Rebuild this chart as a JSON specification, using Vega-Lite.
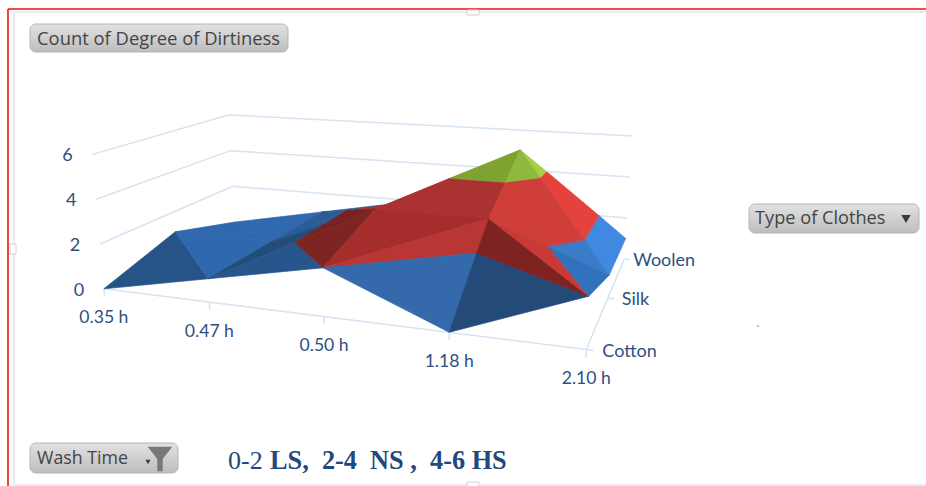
{
"$schema":"https://vega.github.io/schema/vega-lite/v6.json",
"description":"3-D surface of dirtiness count by wash time and type of clothes, drawn as projected facets split into 0-2, 2-4 and 4-6 bands",
"width":926,"height":486,"padding":0,
"autosize":{"type":"fit","contains":"padding"},
"background":"white",
"config":{"view":{"stroke":null}},
"data":{"values":[
{"group":"wall","id":"g2","corner":1,"washStep":0,"clothStep":0,"count":2},{"group":"wall","id":"g2","corner":2,"washStep":0,"clothStep":2,"count":2},{"group":"wall","id":"g2","corner":3,"washStep":4,"clothStep":2,"count":2},
{"group":"wall","id":"g4","corner":1,"washStep":0,"clothStep":0,"count":4},{"group":"wall","id":"g4","corner":2,"washStep":0,"clothStep":2,"count":4},{"group":"wall","id":"g4","corner":3,"washStep":4,"clothStep":2,"count":4},
{"group":"wall","id":"g6","corner":1,"washStep":0,"clothStep":0,"count":6},{"group":"wall","id":"g6","corner":2,"washStep":0,"clothStep":2,"count":6},{"group":"wall","id":"g6","corner":3,"washStep":4,"clothStep":2,"count":6},
{"group":"wall","id":"front","corner":1,"washStep":0,"clothStep":0,"count":0},{"group":"wall","id":"front","corner":2,"washStep":4,"clothStep":0,"count":0},{"group":"wall","id":"front","corner":3,"washStep":4,"clothStep":2,"count":0},
{"group":"wall","id":"t0","corner":1,"washStep":0,"clothStep":0,"count":0},{"group":"wall","id":"t0","corner":2,"washStep":0,"clothStep":0,"count":-0.3},
{"group":"wall","id":"t1","corner":1,"washStep":1,"clothStep":0,"count":0},{"group":"wall","id":"t1","corner":2,"washStep":1,"clothStep":0,"count":-0.3},
{"group":"wall","id":"t2","corner":1,"washStep":2,"clothStep":0,"count":0},{"group":"wall","id":"t2","corner":2,"washStep":2,"clothStep":0,"count":-0.3},
{"group":"wall","id":"t3","corner":1,"washStep":3,"clothStep":0,"count":0},{"group":"wall","id":"t3","corner":2,"washStep":3,"clothStep":0,"count":-0.3},
{"group":"wall","id":"t4","corner":1,"washStep":4,"clothStep":0,"count":0},{"group":"wall","id":"t4","corner":2,"washStep":4,"clothStep":0,"count":-0.3},
{"group":"wall","id":"c0","corner":1,"washStep":4,"clothStep":0,"count":0},{"group":"wall","id":"c0","corner":2,"washStep":4.05,"clothStep":0,"count":0},
{"group":"wall","id":"c1","corner":1,"washStep":4,"clothStep":1,"count":0},{"group":"wall","id":"c1","corner":2,"washStep":4.05,"clothStep":1,"count":0},
{"group":"wall","id":"c2","corner":1,"washStep":4,"clothStep":2,"count":0},{"group":"wall","id":"c2","corner":2,"washStep":4.05,"clothStep":2,"count":0},

{"group":"washLabel","label":"0.35 h","washStep":0,"clothStep":0,"count":0},
{"group":"washLabel","label":"0.47 h","washStep":1,"clothStep":0,"count":0},
{"group":"washLabel","label":"0.50 h","washStep":2,"clothStep":0,"count":0},
{"group":"washLabel","label":"1.18 h","washStep":3,"clothStep":0,"count":0},
{"group":"washLabel","label":"2.10 h","washStep":4,"clothStep":0,"count":0},
{"group":"clothLabel","label":"Cotton","washStep":4,"clothStep":0,"count":0},
{"group":"clothLabel","label":"Silk","washStep":4,"clothStep":1,"count":0},
{"group":"clothLabel","label":"Woolen","washStep":4,"clothStep":2,"count":0},
{"group":"countLabel","label":"0","washStep":0,"clothStep":0,"count":0},
{"group":"countLabel","label":"2","washStep":0,"clothStep":0,"count":2},
{"group":"countLabel","label":"4","washStep":0,"clothStep":0,"count":4},
{"group":"countLabel","label":"6","washStep":0,"clothStep":0,"count":6},

{"group":"surface","facet":"a3","corner":1,"washStep":0,"clothStep":1,"count":1},{"group":"surface","facet":"a3","corner":2,"washStep":1,"clothStep":1,"count":1},{"group":"surface","facet":"a3","corner":3,"washStep":0,"clothStep":2,"count":0},{"group":"surface","facet":"a3","corner":9,"washStep":0,"clothStep":1,"count":1},
{"group":"surface","facet":"a4","corner":1,"washStep":1,"clothStep":1,"count":1},{"group":"surface","facet":"a4","corner":2,"washStep":0,"clothStep":2,"count":0},{"group":"surface","facet":"a4","corner":3,"washStep":1,"clothStep":2,"count":1},{"group":"surface","facet":"a4","corner":9,"washStep":1,"clothStep":1,"count":1},
{"group":"surface","facet":"b5","corner":1,"washStep":1,"clothStep":2,"count":1},{"group":"surface","facet":"b5","corner":2,"washStep":2,"clothStep":2,"count":2},{"group":"surface","facet":"b5","corner":3,"washStep":1.5,"clothStep":1.5,"count":2},{"group":"surface","facet":"b5","corner":9,"washStep":1,"clothStep":2,"count":1},
{"group":"surface","facet":"b6","corner":1,"washStep":1.5,"clothStep":1.5,"count":2},{"group":"surface","facet":"b6","corner":2,"washStep":2,"clothStep":2,"count":2},{"group":"surface","facet":"b6","corner":3,"washStep":2,"clothStep":1,"count":3},{"group":"surface","facet":"b6","corner":9,"washStep":1.5,"clothStep":1.5,"count":2},
{"group":"surface","facet":"b3","corner":1,"washStep":1,"clothStep":1,"count":1},{"group":"surface","facet":"b3","corner":2,"washStep":1,"clothStep":2,"count":1},{"group":"surface","facet":"b3","corner":3,"washStep":1.5,"clothStep":1.5,"count":2},{"group":"surface","facet":"b3","corner":4,"washStep":1.5,"clothStep":1,"count":2},{"group":"surface","facet":"b3","corner":9,"washStep":1,"clothStep":1,"count":1},
{"group":"surface","facet":"b4","corner":1,"washStep":1.5,"clothStep":1,"count":2},{"group":"surface","facet":"b4","corner":2,"washStep":1.5,"clothStep":1.5,"count":2},{"group":"surface","facet":"b4","corner":3,"washStep":2,"clothStep":1,"count":3},{"group":"surface","facet":"b4","corner":9,"washStep":1.5,"clothStep":1,"count":2},
{"group":"surface","facet":"d1","corner":1,"washStep":2,"clothStep":1,"count":3},{"group":"surface","facet":"d1","corner":2,"washStep":2,"clothStep":2,"count":2},{"group":"surface","facet":"d1","corner":3,"washStep":2.667,"clothStep":2,"count":4},{"group":"surface","facet":"d1","corner":4,"washStep":2.5,"clothStep":1.5,"count":4},{"group":"surface","facet":"d1","corner":9,"washStep":2,"clothStep":1,"count":3},
{"group":"surface","facet":"d2","corner":1,"washStep":2.5,"clothStep":1.5,"count":4},{"group":"surface","facet":"d2","corner":2,"washStep":2.667,"clothStep":2,"count":4},{"group":"surface","facet":"d2","corner":3,"washStep":3,"clothStep":2,"count":5},{"group":"surface","facet":"d2","corner":9,"washStep":2.5,"clothStep":1.5,"count":4},
{"group":"surface","facet":"d3","corner":1,"washStep":2,"clothStep":1,"count":3},{"group":"surface","facet":"d3","corner":2,"washStep":3,"clothStep":1,"count":3},{"group":"surface","facet":"d3","corner":3,"washStep":3,"clothStep":1.5,"count":4},{"group":"surface","facet":"d3","corner":4,"washStep":2.5,"clothStep":1.5,"count":4},{"group":"surface","facet":"d3","corner":9,"washStep":2,"clothStep":1,"count":3},
{"group":"surface","facet":"d4","corner":1,"washStep":2.5,"clothStep":1.5,"count":4},{"group":"surface","facet":"d4","corner":2,"washStep":3,"clothStep":1.5,"count":4},{"group":"surface","facet":"d4","corner":3,"washStep":3,"clothStep":2,"count":5},{"group":"surface","facet":"d4","corner":9,"washStep":2.5,"clothStep":1.5,"count":4},
{"group":"surface","facet":"e4","corner":1,"washStep":4,"clothStep":1,"count":1},{"group":"surface","facet":"e4","corner":2,"washStep":3.75,"clothStep":1.25,"count":2},{"group":"surface","facet":"e4","corner":3,"washStep":3.75,"clothStep":2,"count":2},{"group":"surface","facet":"e4","corner":4,"washStep":4,"clothStep":2,"count":1},{"group":"surface","facet":"e4","corner":9,"washStep":4,"clothStep":1,"count":1},
{"group":"surface","facet":"e5","corner":1,"washStep":3.75,"clothStep":1.25,"count":2},{"group":"surface","facet":"e5","corner":2,"washStep":3.25,"clothStep":1.75,"count":4},{"group":"surface","facet":"e5","corner":3,"washStep":3.25,"clothStep":2,"count":4},{"group":"surface","facet":"e5","corner":4,"washStep":3.75,"clothStep":2,"count":2},{"group":"surface","facet":"e5","corner":9,"washStep":3.75,"clothStep":1.25,"count":2},
{"group":"surface","facet":"e6","corner":1,"washStep":3.25,"clothStep":1.75,"count":4},{"group":"surface","facet":"e6","corner":2,"washStep":3,"clothStep":2,"count":5},{"group":"surface","facet":"e6","corner":3,"washStep":3.25,"clothStep":2,"count":4},{"group":"surface","facet":"e6","corner":9,"washStep":3.25,"clothStep":1.75,"count":4},
{"group":"surface","facet":"e1","corner":1,"washStep":3.5,"clothStep":1,"count":2},{"group":"surface","facet":"e1","corner":2,"washStep":4,"clothStep":1,"count":1},{"group":"surface","facet":"e1","corner":3,"washStep":3.75,"clothStep":1.25,"count":2},{"group":"surface","facet":"e1","corner":9,"washStep":3.5,"clothStep":1,"count":2},
{"group":"surface","facet":"e2","corner":1,"washStep":3,"clothStep":1,"count":3},{"group":"surface","facet":"e2","corner":2,"washStep":3.5,"clothStep":1,"count":2},{"group":"surface","facet":"e2","corner":3,"washStep":3.75,"clothStep":1.25,"count":2},{"group":"surface","facet":"e2","corner":4,"washStep":3.25,"clothStep":1.75,"count":4},{"group":"surface","facet":"e2","corner":5,"washStep":3,"clothStep":1.5,"count":4},{"group":"surface","facet":"e2","corner":9,"washStep":3,"clothStep":1,"count":3},
{"group":"surface","facet":"e3","corner":1,"washStep":3,"clothStep":1.5,"count":4},{"group":"surface","facet":"e3","corner":2,"washStep":3.25,"clothStep":1.75,"count":4},{"group":"surface","facet":"e3","corner":3,"washStep":3,"clothStep":2,"count":5},{"group":"surface","facet":"e3","corner":9,"washStep":3,"clothStep":1.5,"count":4},

{"group":"surface","facet":"a1","corner":1,"washStep":0,"clothStep":0,"count":0},{"group":"surface","facet":"a1","corner":2,"washStep":1,"clothStep":0,"count":1},{"group":"surface","facet":"a1","corner":3,"washStep":0,"clothStep":1,"count":1},{"group":"surface","facet":"a1","corner":9,"washStep":0,"clothStep":0,"count":0},
{"group":"surface","facet":"a2","corner":1,"washStep":1,"clothStep":0,"count":1},{"group":"surface","facet":"a2","corner":2,"washStep":0,"clothStep":1,"count":1},{"group":"surface","facet":"a2","corner":3,"washStep":1,"clothStep":1,"count":1},{"group":"surface","facet":"a2","corner":9,"washStep":1,"clothStep":0,"count":1},
{"group":"surface","facet":"b2","corner":1,"washStep":1,"clothStep":0,"count":1},{"group":"surface","facet":"b2","corner":2,"washStep":1,"clothStep":1,"count":1},{"group":"surface","facet":"b2","corner":3,"washStep":1.5,"clothStep":1,"count":2},{"group":"surface","facet":"b2","corner":4,"washStep":1.5,"clothStep":0.5,"count":2},{"group":"surface","facet":"b2","corner":9,"washStep":1,"clothStep":0,"count":1},
{"group":"surface","facet":"b1","corner":1,"washStep":1,"clothStep":0,"count":1},{"group":"surface","facet":"b1","corner":2,"washStep":2,"clothStep":0,"count":2},{"group":"surface","facet":"b1","corner":3,"washStep":1.5,"clothStep":0.5,"count":2},{"group":"surface","facet":"b1","corner":9,"washStep":1,"clothStep":0,"count":1},
{"group":"surface","facet":"c2","corner":1,"washStep":1.5,"clothStep":0.5,"count":2},{"group":"surface","facet":"c2","corner":2,"washStep":1.5,"clothStep":1,"count":2},{"group":"surface","facet":"c2","corner":3,"washStep":2,"clothStep":1,"count":3},{"group":"surface","facet":"c2","corner":9,"washStep":1.5,"clothStep":0.5,"count":2},
{"group":"surface","facet":"c1","corner":1,"washStep":1.5,"clothStep":0.5,"count":2},{"group":"surface","facet":"c1","corner":2,"washStep":2,"clothStep":0,"count":2},{"group":"surface","facet":"c1","corner":3,"washStep":2,"clothStep":1,"count":3},{"group":"surface","facet":"c1","corner":9,"washStep":1.5,"clothStep":0.5,"count":2},
{"group":"surface","facet":"f1","corner":1,"washStep":2,"clothStep":0,"count":2},{"group":"surface","facet":"f1","corner":2,"washStep":2,"clothStep":1,"count":3},{"group":"surface","facet":"f1","corner":3,"washStep":3,"clothStep":1,"count":3},{"group":"surface","facet":"f1","corner":9,"washStep":2,"clothStep":0,"count":2},
{"group":"surface","facet":"f2","corner":1,"washStep":2,"clothStep":0,"count":2},{"group":"surface","facet":"f2","corner":2,"washStep":3,"clothStep":0.667,"count":2},{"group":"surface","facet":"f2","corner":3,"washStep":3,"clothStep":1,"count":3},{"group":"surface","facet":"f2","corner":9,"washStep":2,"clothStep":0,"count":2},
{"group":"surface","facet":"f3","corner":1,"washStep":2,"clothStep":0,"count":2},{"group":"surface","facet":"f3","corner":2,"washStep":3,"clothStep":0,"count":0},{"group":"surface","facet":"f3","corner":3,"washStep":3,"clothStep":0.667,"count":2},{"group":"surface","facet":"f3","corner":9,"washStep":2,"clothStep":0,"count":2},
{"group":"surface","facet":"g1","corner":1,"washStep":3,"clothStep":0,"count":0},{"group":"surface","facet":"g1","corner":2,"washStep":4,"clothStep":0,"count":2},{"group":"surface","facet":"g1","corner":3,"washStep":3,"clothStep":0.667,"count":2},{"group":"surface","facet":"g1","corner":9,"washStep":3,"clothStep":0,"count":0},
{"group":"surface","facet":"g2","corner":1,"washStep":3,"clothStep":0.667,"count":2},{"group":"surface","facet":"g2","corner":2,"washStep":4,"clothStep":0,"count":2},{"group":"surface","facet":"g2","corner":3,"washStep":3,"clothStep":1,"count":3},{"group":"surface","facet":"g2","corner":9,"washStep":3,"clothStep":0.667,"count":2},
{"group":"surface","facet":"g3","corner":1,"washStep":4,"clothStep":0,"count":2},{"group":"surface","facet":"g3","corner":2,"washStep":3,"clothStep":1,"count":3},{"group":"surface","facet":"g3","corner":3,"washStep":3.5,"clothStep":1,"count":2},{"group":"surface","facet":"g3","corner":9,"washStep":4,"clothStep":0,"count":2},
{"group":"surface","facet":"g4","corner":1,"washStep":4,"clothStep":0,"count":2},{"group":"surface","facet":"g4","corner":2,"washStep":3.5,"clothStep":1,"count":2},{"group":"surface","facet":"g4","corner":3,"washStep":4,"clothStep":1,"count":1},{"group":"surface","facet":"g4","corner":9,"washStep":4,"clothStep":0,"count":2}
]},
"transform":[
{"calculate":"1 - 0.0401*datum.washStep + 0.12705*datum.clothStep","as":"depth"},
{"calculate":"(97.2*datum.washStep + 95.35*datum.clothStep + 104)/datum.depth","as":"floorX"},
{"calculate":"(1.175*datum.washStep - 5.15*datum.clothStep + 290)/datum.depth","as":"floorY"},
{"calculate":"datum.floorX + (datum.floorX - 400)*0.0065*datum.count","as":"px"},
{"calculate":"datum.floorY - datum.count*22.5/datum.depth","as":"py"},
{"calculate":"datum.px + (datum.clothStep == 2 ? 9 : datum.clothStep == 1 ? 14 : 16)","as":"clothLabelX"}
],
"encoding":{
"x":{"field":"px","type":"quantitative","scale":{"domain":[0,926],"nice":false,"zero":false},"axis":null},
"y":{"field":"py","type":"quantitative","scale":{"domain":[486,0],"nice":false,"zero":false},"axis":null}
},
"layer":[
{"data":{"values":[{"a":1}]},"mark":{"type":"rule","color":"#F01010","strokeWidth":1.6},"encoding":{"x":{"value":8},"x2":{"value":926},"y":{"value":9},"y2":{"value":9}}},
{"data":{"values":[{"a":1}]},"mark":{"type":"rule","color":"#F01010","strokeWidth":1.6},"encoding":{"x":{"value":8},"x2":{"value":8},"y":{"value":9},"y2":{"value":486}}},
{"data":{"values":[{"a":1}]},"mark":{"type":"rule","color":"#D9D9D9","strokeWidth":1.2},"encoding":{"x":{"value":15},"x2":{"value":926},"y":{"value":12},"y2":{"value":12}}},
{"data":{"values":[{"a":1}]},"mark":{"type":"rule","color":"#D9D9D9","strokeWidth":1.2},"encoding":{"x":{"value":14},"x2":{"value":14},"y":{"value":12},"y2":{"value":485}}},
{"data":{"values":[{"a":1}]},"mark":{"type":"rule","color":"#D9D9D9","strokeWidth":1.2},"encoding":{"x":{"value":14},"x2":{"value":926},"y":{"value":485},"y2":{"value":485}}},
{"data":{"values":[{"a":1}]},"mark":{"type":"rect","fill":"white","stroke":"#D0D0D0"},"encoding":{"x":{"value":467},"x2":{"value":479},"y":{"value":10},"y2":{"value":15}}},
{"data":{"values":[{"a":1}]},"mark":{"type":"rect","fill":"white","stroke":"#D0D0D0"},"encoding":{"x":{"value":467},"x2":{"value":479},"y":{"value":482},"y2":{"value":487}}},
{"data":{"values":[{"a":1}]},"mark":{"type":"rect","fill":"white","stroke":"#D0D0D0"},"encoding":{"x":{"value":10},"x2":{"value":16},"y":{"value":244},"y2":{"value":254}}},

{"transform":[{"filter":"datum.group === 'wall'"}],"mark":{"type":"line","stroke":"#D6E3F3","strokeWidth":1.5},"encoding":{"detail":{"field":"id"},"order":{"field":"corner"}}},

{"transform":[{"filter":"datum.group === 'surface'"}],
 "mark":{"type":"line","filled":true,"strokeWidth":0.7},
 "encoding":{
  "order":{"field":"corner"},
  "fill":{"field":"facet","type":"nominal","legend":null,"sort":null,"scale":{
   "domain":["a1","a2","a3","a4","b1","b2","b3","b4","b5","b6","c1","c2","d1","d2","d3","d4","e1","e2","e3","e4","e5","e6","f1","f2","f3","g1","g2","g3","g4"],
   "range":["#265487","#2F68AE","#2F68AE","#3069B0","#27568C","#234C79","#2A5C98","#762220","#2A5C98","#A83030","#7E2523","#762220","#A83030","#7EA331","#AA3230","#7EA331","#3A7CC8","#D03E3A","#8FB93E","#3F8AE0","#E5423E","#A6CE47","#A52E2C","#B83633","#3469AC","#234A78","#7E2321","#C93A36","#3272BC"]}},
  "stroke":{"field":"facet","type":"nominal","legend":null,"sort":null,"scale":{
   "domain":["a1","a2","a3","a4","b1","b2","b3","b4","b5","b6","c1","c2","d1","d2","d3","d4","e1","e2","e3","e4","e5","e6","f1","f2","f3","g1","g2","g3","g4"],
   "range":["#265487","#2F68AE","#2F68AE","#3069B0","#27568C","#234C79","#2A5C98","#762220","#2A5C98","#A83030","#7E2523","#762220","#A83030","#7EA331","#AA3230","#7EA331","#3A7CC8","#D03E3A","#8FB93E","#3F8AE0","#E5423E","#A6CE47","#A52E2C","#B83633","#3469AC","#234A78","#7E2321","#C93A36","#3272BC"]}}
 }},

{"transform":[{"filter":"datum.group === 'washLabel'"}],"mark":{"type":"text","font":"Lato","fontSize":17.6,"align":"center","baseline":"middle","dy":29.5,"color":"#2E5080"},"encoding":{"text":{"field":"label"}}},
{"transform":[{"filter":"datum.group === 'clothLabel'"}],"mark":{"type":"text","font":"Lato","fontSize":18,"align":"left","baseline":"middle","dy":2,"color":"#2E5080"},"encoding":{"x":{"field":"clothLabelX","type":"quantitative"},"text":{"field":"label"}}},
{"transform":[{"filter":"datum.group === 'countLabel'"}],"mark":{"type":"text","font":"Lato","fontSize":18,"align":"center","baseline":"middle","dx":-25,"dy":2,"color":"#2E5080"},"encoding":{"text":{"field":"label"}}},

{"data":{"values":[{"a":1}]},"mark":{"type":"rect","cornerRadius":6,"stroke":"#B4B4B4","fill":{"gradient":"linear","x1":0,"y1":0,"x2":0,"y2":1,"stops":[{"offset":0,"color":"#E2E2E2"},{"offset":1,"color":"#BDBDBD"}]}},"encoding":{"x":{"value":30},"x2":{"value":288},"y":{"value":24},"y2":{"value":52}}},
{"data":{"values":[{"a":1}]},"mark":{"type":"rect","cornerRadius":6,"stroke":"#B4B4B4","fill":{"gradient":"linear","x1":0,"y1":0,"x2":0,"y2":1,"stops":[{"offset":0,"color":"#E2E2E2"},{"offset":1,"color":"#BDBDBD"}]}},"encoding":{"x":{"value":749},"x2":{"value":919},"y":{"value":204},"y2":{"value":233}}},
{"data":{"values":[{"a":1}]},"mark":{"type":"rect","cornerRadius":6,"stroke":"#B4B4B4","fill":{"gradient":"linear","x1":0,"y1":0,"x2":0,"y2":1,"stops":[{"offset":0,"color":"#E2E2E2"},{"offset":1,"color":"#BDBDBD"}]}},"encoding":{"x":{"value":30},"x2":{"value":178},"y":{"value":443},"y2":{"value":473}}},
{"data":{"values":[{"t":"Count of Degree of Dirtiness"}]},"mark":{"type":"text","font":"Open Sans","fontSize":18.4,"align":"left","baseline":"middle","color":"#444444"},"encoding":{"x":{"value":37},"y":{"value":39},"text":{"field":"t"}}},
{"data":{"values":[{"t":"Type of Clothes"}]},"mark":{"type":"text","font":"Open Sans","fontSize":18.2,"align":"left","baseline":"middle","color":"#444444"},"encoding":{"x":{"value":755},"y":{"value":219},"text":{"field":"t"}}},
{"data":{"values":[{"t":"Wash Time"}]},"mark":{"type":"text","font":"Open Sans","fontSize":17.8,"align":"left","baseline":"middle","color":"#444444"},"encoding":{"x":{"value":37},"y":{"value":459},"text":{"field":"t"}}},
{"data":{"values":[{"a":1}]},"mark":{"type":"point","shape":"triangle-down","filled":true,"size":90,"color":"#3A3A3A","opacity":1},"encoding":{"x":{"value":906},"y":{"value":219}}},
{"data":{"values":[{"a":1}]},"mark":{"type":"point","shape":"triangle-down","filled":true,"size":25,"color":"#3A3A3A","opacity":1},"encoding":{"x":{"value":148},"y":{"value":462}}},
{"data":{"values":[{"a":1}]},"mark":{"type":"point","shape":"M-1,-1L1,-1L0.22,0L0.22,1L-0.22,1L-0.22,0Z","filled":true,"size":600,"color":"#777777","opacity":1},"encoding":{"x":{"value":160},"y":{"value":459}}},
{"data":{"values":[{"a":1}]},"mark":{"type":"point","shape":"circle","filled":true,"size":3,"color":"#5B86BD","opacity":1},"encoding":{"x":{"value":758},"y":{"value":326}}},
{"data":{"values":[{"t":"0-2"}]},"mark":{"type":"text","font":"Liberation Serif","fontSize":26,"align":"left","baseline":"alphabetic","color":"#1F497D"},"encoding":{"x":{"value":228},"y":{"value":469},"text":{"field":"t"}}},
{"data":{"values":[{"t":"LS,\u00a0\u00a02-4\u00a0\u00a0NS\u00a0,\u00a0\u00a04-6\u00a0HS"}]},"mark":{"type":"text","font":"Liberation Serif","fontSize":26.3,"fontWeight":"bold","align":"left","baseline":"alphabetic","color":"#1F497D"},"encoding":{"x":{"value":270},"y":{"value":469},"text":{"field":"t"}}}
]
}
